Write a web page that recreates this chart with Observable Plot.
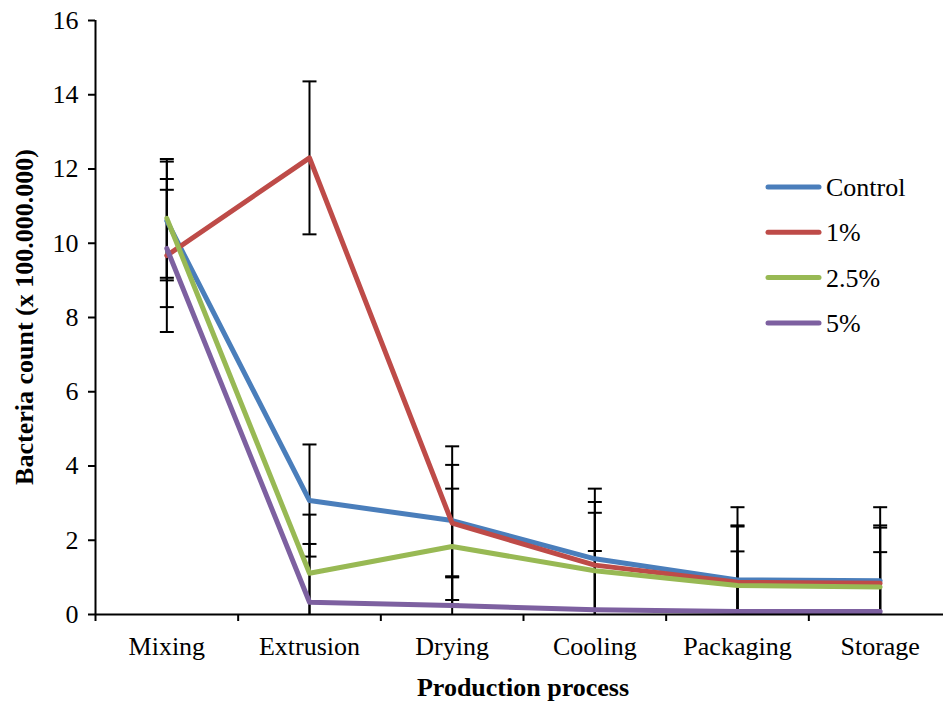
<!DOCTYPE html>
<html>
<head>
<meta charset="utf-8">
<script src="https://cdn.jsdelivr.net/npm/d3@7"></script>
<script src="https://cdn.jsdelivr.net/npm/@observablehq/plot@0.6"></script>
<style>
  html, body { margin: 0; padding: 0; background: white; overflow: hidden; }
  #chart svg { display: block; }
  #chart svg text { font-family: "Liberation Serif", "Times New Roman", serif; }
</style>
</head>
<body>
<div id="chart"></div>
<script>
// ---- data ----
const categories = ["Mixing", "Extrusion", "Drying", "Cooling", "Packaging", "Storage"];
const seriesNames = ["Control", "1%", "2.5%", "5%"];
const seriesColors = ["#4A7EBB", "#BE4B48", "#98B954", "#7D60A0"];

const controlValues = [10.6, 3.07, 2.53, 1.50, 0.93, 0.91];
const controlErrors = [1.6, 1.51, 1.50, 1.89, 1.96, 1.98];
const pct1Values = [9.67, 12.30, 2.46, 1.33, 0.87, 0.84];
const pct1Errors = [2.06, 2.06, 2.07, 1.70, 1.53, 1.56];
const pct25Values = [10.67, 1.11, 1.83, 1.18, 0.78, 0.74];
const pct25Errors = [1.60, 1.58, 1.56, 1.56, 1.59, 1.60];
const pct5Values = [9.86, 0.33, 0.24, 0.13, 0.08, 0.08];
const pct5Errors = [1.58, 1.57, 0.76, 1.58, 1.62, 1.60];

const yTicks = [0, 2, 4, 6, 8, 10, 12, 14, 16];
const yTitle = "Bacteria count (x 100.000.000)";
const xTitle = "Production process";

// ---- build table ----
const valueSets = [controlValues, pct1Values, pct25Values, pct5Values];
const errorSets = [controlErrors, pct1Errors, pct25Errors, pct5Errors];
const rows = [];
seriesNames.forEach((s, k) => {
  categories.forEach((c, i) => {
    const v = valueSets[k][i], e = errorSets[k][i];
    rows.push({series: s, i, category: c, v, lo: v - e, hi: v + e});
  });
});
const caps = [];
rows.forEach(r => {
  caps.push({i: r.i, v: r.hi});
  if (r.lo > 0) caps.push({i: r.i, v: r.lo});
});
const bandTicks = d3.range(categories.length + 1).map(k => k - 0.5);

const capSymbol = {
  draw(context) { context.moveTo(-7, 0); context.lineTo(7, 0); }
};

const font = "'Liberation Serif', 'Times New Roman', serif";

const chart = Plot.plot({
  width: 943,
  height: 703,
  marginLeft: 95,
  marginRight: -8,
  marginTop: 20,
  marginBottom: 89,
  x: {type: "linear", domain: [-0.5, categories.length - 0.5]},
  y: {domain: [0, 16]},
  color: {domain: seriesNames, range: seriesColors},
  style: {fontFamily: font, fontSize: "26px", color: "black", background: "white", overflow: "hidden"},
  marks: [
    Plot.ruleX(rows, {x: "i", y1: d => Math.max(0, d.lo), y2: "hi", stroke: "black", strokeWidth: 2}),
    Plot.dot(caps, {x: "i", y: "v", symbol: capSymbol, stroke: "black", strokeWidth: 2, fill: "none"}),
    Plot.line(rows, {x: "i", y: "v", z: "series", stroke: "series", strokeWidth: 5,
      strokeLinecap: "round", strokeLinejoin: "round"}),
    Plot.ruleX([-0.5], {stroke: "black", strokeWidth: 2}),
    Plot.ruleY([0], {stroke: "black", strokeWidth: 2}),
    Plot.axisY({ticks: yTicks, tickSize: 7, tickPadding: 10, tickFormat: d => String(d),
      label: null, strokeWidth: 2, fontSize: 26}),
    Plot.axisX({ticks: d3.range(categories.length), tickSize: 0, tickPadding: 22,
      tickFormat: i => categories[i], label: null, fontSize: 26}),
    Plot.axisX({ticks: bandTicks, tickSize: 7, tickFormat: () => "", label: null, strokeWidth: 2})
  ]
});

const svg = d3.select(chart);

// axis titles
svg.append("text")
  .attr("x", 523).attr("y", 696)
  .attr("text-anchor", "middle")
  .attr("font-size", 26).attr("font-weight", "bold")
  .attr("fill", "black")
  .text(xTitle);

svg.append("text")
  .attr("transform", "translate(33,317) rotate(-90)")
  .attr("text-anchor", "middle")
  .attr("font-size", 26).attr("font-weight", "bold")
  .attr("fill", "black")
  .text(yTitle);

// legend
const lg = svg.append("g");
seriesNames.forEach((s, k) => {
  const y = 187 + k * 45.3;
  lg.append("line")
    .attr("x1", 768).attr("x2", 819).attr("y1", y).attr("y2", y)
    .attr("stroke", seriesColors[k]).attr("stroke-width", 5).attr("stroke-linecap", "round");
  lg.append("text")
    .attr("x", 826).attr("y", y + 9)
    .attr("text-anchor", "start")
    .attr("font-size", 26)
    .attr("fill", "black")
    .text(s);
});

document.getElementById("chart").appendChild(chart);
</script>
</body>
</html>
